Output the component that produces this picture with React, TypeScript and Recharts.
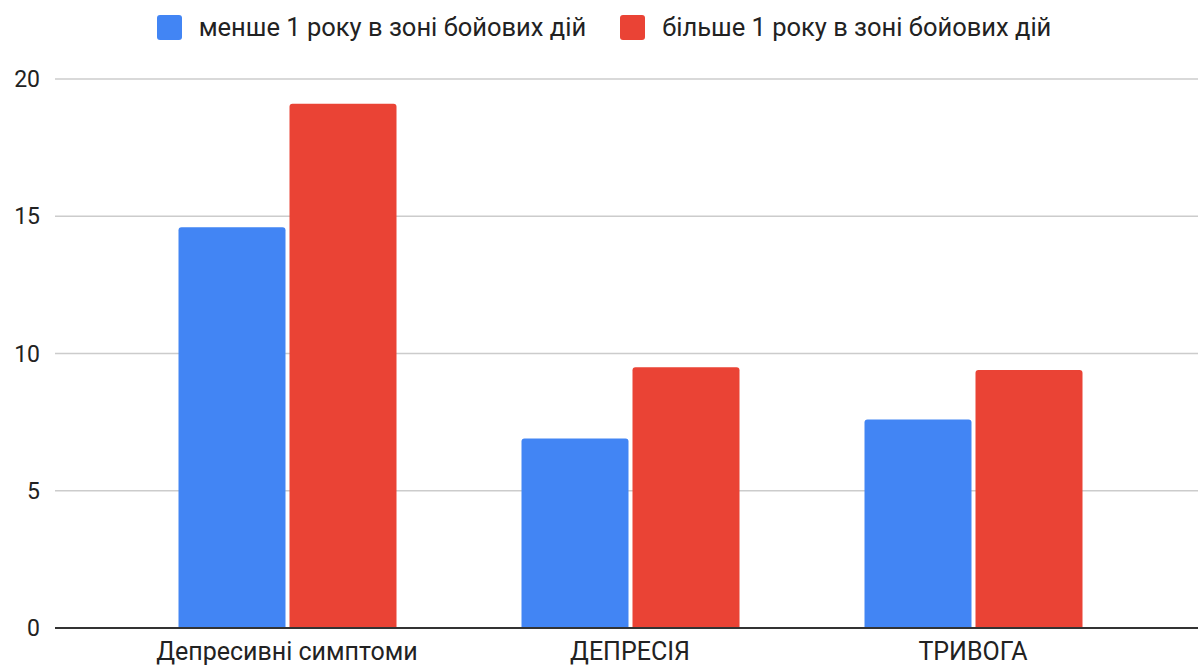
import React from "react";
import { Bar, BarChart, CartesianGrid, XAxis, YAxis } from "recharts";

const CATEGORIES = ["Депресивні симптоми", "ДЕПРЕСІЯ", "ТРИВОГА"];
const LESS_THAN_YEAR = [14.6, 6.9, 7.6];
const MORE_THAN_YEAR = [19.1, 9.5, 9.4];
const Y_TICKS = [0, 5, 10, 15, 20];

const SERIES = [
  { key: "less", name: "менше 1 року в зоні бойових дій", color: "#4285f4" },
  { key: "more", name: "більше 1 року в зоні бойових дій", color: "#ea4335" },
];

const data = CATEGORIES.map((name, i) => ({
  name,
  less: LESS_THAN_YEAR[i],
  more: MORE_THAN_YEAR[i],
}));

const FONT = "Roboto, Arial, sans-serif";

// legend sits above the plot, outside the chart's own layout
function TopLegend() {
  return (
    <div
      style={{
        position: "absolute",
        left: 5,
        top: 14,
        width: 1198,
        display: "flex",
        justifyContent: "center",
        gap: 34,
        fontFamily: FONT,
        fontSize: 25.5,
        lineHeight: "26px",
        color: "#222",
      }}
    >
      {SERIES.map((s) => (
        <div key={s.key} style={{ display: "flex", alignItems: "center", gap: 17 }}>
          <span
            style={{
              width: 25,
              height: 25,
              borderRadius: 3,
              background: s.color,
              display: "inline-block",
            }}
          />
          <span>{s.name}</span>
        </div>
      ))}
    </div>
  );
}

export default function App() {
  return (
    <div
      style={{
        position: "absolute",
        left: 0,
        top: 0,
        width: 1198,
        height: 666,
        background: "#fff",
        overflow: "hidden",
      }}
    >
      <BarChart
        width={1198}
        height={666}
        data={data}
        margin={{ top: 79, right: 0, left: 0, bottom: 0 }}
        barGap={4}
        barSize={107}
      >
        <CartesianGrid stroke="#cccccc" strokeWidth={1.5} vertical={false} />
        <XAxis
          dataKey="name"
          height={38}
          padding={{ left: 60.5, right: 53.5 }}
          tickLine={false}
          axisLine={{ stroke: "#333", strokeWidth: 2 }}
          tick={{ fontSize: 25, fill: "#222", fontFamily: FONT }}
          tickMargin={8}
          interval={0}
        />
        <YAxis
          width={55}
          domain={[0, 20]}
          ticks={Y_TICKS}
          axisLine={false}
          tickLine={false}
          tickSize={0}
          tickMargin={15}
          tick={{ fontSize: 23, fill: "#222", fontFamily: FONT }}
        />
        {SERIES.map((s) => (
          <Bar
            key={s.key}
            dataKey={s.key}
            name={s.name}
            fill={s.color}
            radius={[3, 3, 0, 0]}
            isAnimationActive={false}
          />
        ))}
      </BarChart>
      <TopLegend />
    </div>
  );
}
